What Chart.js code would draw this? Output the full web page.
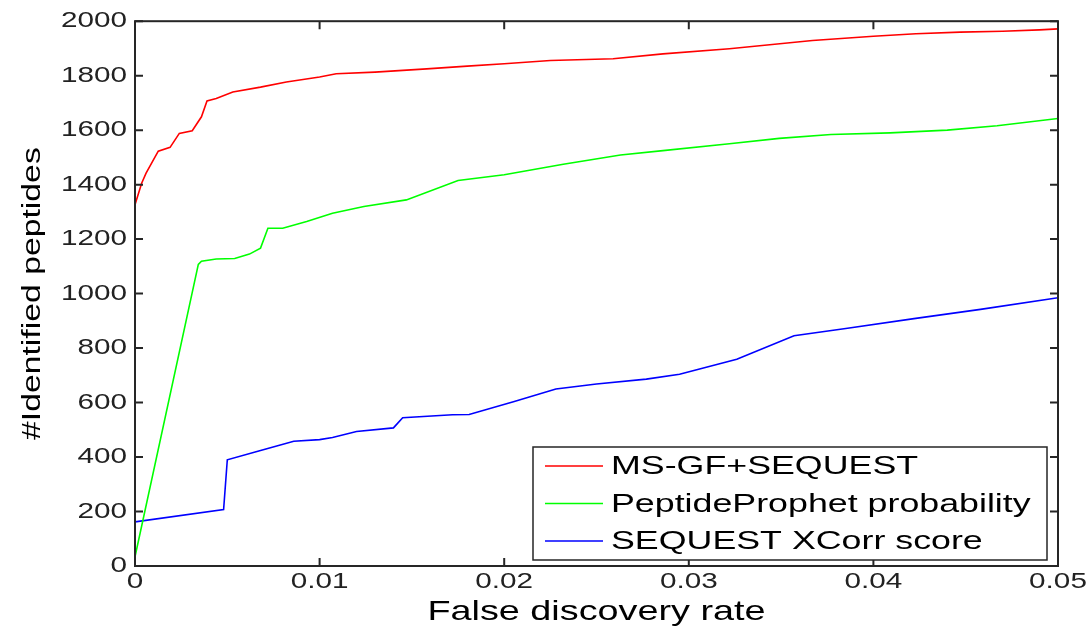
<!DOCTYPE html>
<html lang="en">
<head>
    <meta charset="UTF-8">
    <title>Identified peptides vs FDR</title>
    <style>
        body {
            margin: 0;
            padding: 0;
            background-color: #fff;
        }
        #chart {
            display: block;
        }
    </style>
    <script src="https://cdn.jsdelivr.net/npm/chart.js"></script>
</head>
<body>
<canvas id="chart" width="1092" height="635"></canvas>
<script>
    // tick positions and labels
    const xTicks = [0, 0.01, 0.02, 0.03, 0.04, 0.05];
    const xTickLabels = ['0', '0.01', '0.02', '0.03', '0.04', '0.05'];
    const yTicks = [0, 200, 400, 600, 800, 1000, 1200, 1400, 1600, 1800, 2000];
    const yTickLabels = ['0', '200', '400', '600', '800', '1000', '1200', '1400', '1600', '1800', '2000'];

    const seriesNames = ['MS-GF+SEQUEST', 'PeptideProphet probability', 'SEQUEST XCorr score'];

    // MS-GF+SEQUEST
    const msgfFdr = [0, 0.00036, 0.0006, 0.00126, 0.0019, 0.0024, 0.0031, 0.0036, 0.0039, 0.0044, 0.0053, 0.0068,
        0.0082, 0.010, 0.0109, 0.013, 0.0158, 0.018, 0.020, 0.0225, 0.0259, 0.0286, 0.0322, 0.0367, 0.040,
        0.0423, 0.0447, 0.047, 0.049, 0.050];
    const msgfCount = [1326, 1405, 1442, 1523, 1537, 1588, 1598, 1649, 1707, 1716, 1740, 1758,
        1777, 1795, 1807, 1813, 1825, 1835, 1844, 1856, 1862, 1880, 1899, 1929, 1945,
        1954, 1960, 1963, 1968, 1972];

    // PeptideProphet probability
    const prophetFdr = [0, 0.00343, 0.0036, 0.0044, 0.0054, 0.0062, 0.0068, 0.0072, 0.008, 0.0093, 0.0107, 0.0124,
        0.0147, 0.0175, 0.020, 0.0232, 0.0263, 0.0286, 0.0322, 0.0349, 0.0377, 0.0409, 0.044, 0.0467, 0.050];
    const prophetCount = [34, 1107, 1119, 1127, 1129, 1145, 1167, 1240, 1240, 1265, 1295, 1320,
        1344, 1415, 1436, 1475, 1509, 1525, 1550, 1570, 1584, 1590, 1600, 1616, 1643];

    // SEQUEST XCorr score
    const xcorrFdr = [0, 0.0048, 0.005, 0.0068, 0.0086, 0.010, 0.0107, 0.012, 0.014, 0.0145, 0.0172, 0.0181,
        0.0205, 0.0228, 0.025, 0.0277, 0.0295, 0.0326, 0.0357, 0.0386, 0.0422, 0.0458, 0.050];
    const xcorrCount = [162, 207, 390, 424, 458, 464, 472, 494, 507, 544, 555, 556,
        603, 650, 668, 686, 704, 759, 845, 873, 908, 942, 985];

    const lineColors = ['#ff0000', '#00ff00', '#0000ff'];

    const canvas = document.getElementById('chart');
    const ctx = canvas.getContext('2d');

    // the reference font is wide, so stretch every text run sideways
    const TEXT_STRETCH = 1.35;
    const baseFill = ctx.fillText.bind(ctx);
    const baseMeasure = ctx.measureText.bind(ctx);
    ctx.fillText = function (text, x, y) {
        this.save();
        this.translate(x, y);
        this.scale(TEXT_STRETCH, 1);
        baseFill(text, 0, 0);
        this.restore();
    };
    ctx.measureText = function (text) {
        const m = baseMeasure(text);
        return {
            width: m.width * TEXT_STRETCH,
            actualBoundingBoxAscent: m.actualBoundingBoxAscent,
            actualBoundingBoxDescent: m.actualBoundingBoxDescent
        };
    };

    function toPoints(xs, ys) {
        return xs.map((x, i) => ({ x: x, y: ys[i] }));
    }

    // box with inward ticks and the legend inside the axes
    const framePlugin = {
        id: 'matlabFrame',
        afterDraw(chart) {
            const c = chart.ctx;
            const a = chart.chartArea;
            const xs = chart.scales.x;
            const ys = chart.scales.y;
            c.save();
            c.strokeStyle = '#262626';
            c.lineWidth = 2;
            c.strokeRect(a.left, a.top, a.right - a.left, a.bottom - a.top);
            c.beginPath();
            xTicks.forEach(v => {
                const px = xs.getPixelForValue(v);
                c.moveTo(px, a.bottom);
                c.lineTo(px, a.bottom - 8);
                c.moveTo(px, a.top);
                c.lineTo(px, a.top + 8);
            });
            yTicks.forEach(v => {
                const py = ys.getPixelForValue(v);
                c.moveTo(a.left, py);
                c.lineTo(a.left + 8, py);
                c.moveTo(a.right, py);
                c.lineTo(a.right - 8, py);
            });
            c.stroke();

            // legend
            const boxRight = a.right - 11;
            const boxBottom = a.bottom - 6;
            const boxW = 514;
            const boxH = 113;
            const boxLeft = boxRight - boxW;
            const boxTop = boxBottom - boxH;
            c.fillStyle = '#fff';
            c.fillRect(boxLeft, boxTop, boxW, boxH);
            c.lineWidth = 1.5;
            c.strokeRect(boxLeft, boxTop, boxW, boxH);
            c.font = '26.5px "Liberation Sans", Arial, sans-serif';
            c.textBaseline = 'middle';
            c.textAlign = 'left';
            chart.data.datasets.forEach((ds, i) => {
                const rowY = boxTop + 19 + i * 37.5;
                c.strokeStyle = ds.borderColor;
                c.lineWidth = 1.5;
                c.beginPath();
                c.moveTo(boxLeft + 12, rowY);
                c.lineTo(boxLeft + 70, rowY);
                c.stroke();
                c.fillStyle = '#000';
                c.fillText(ds.label, boxLeft + 78, rowY + 1);
            });
            c.restore();
        }
    };

    new Chart(ctx, {
        type: 'line',
        data: {
            datasets: [
                { label: seriesNames[0], data: toPoints(msgfFdr, msgfCount), borderColor: lineColors[0] },
                { label: seriesNames[1], data: toPoints(prophetFdr, prophetCount), borderColor: lineColors[1] },
                { label: seriesNames[2], data: toPoints(xcorrFdr, xcorrCount), borderColor: lineColors[2] }
            ]
        },
        options: {
            responsive: false,
            animation: false,
            layout: {
                padding: { left: 0, right: 34, top: 19, bottom: 0 }
            },
            elements: {
                line: { borderWidth: 1.6, tension: 0 },
                point: { radius: 0 }
            },
            plugins: {
                legend: { display: false },
                tooltip: { enabled: false }
            },
            scales: {
                x: {
                    type: 'linear',
                    min: 0,
                    max: 0.05,
                    afterBuildTicks: s => { s.ticks = xTicks.map(v => ({ value: v })); },
                    afterFit: s => { s.height = 69; },
                    grid: { display: false, drawTicks: false },
                    border: { display: false },
                    ticks: {
                        padding: 3,
                        color: '#222',
                        maxRotation: 0,
                        autoSkip: false,
                        font: { family: '"Liberation Sans", Arial, sans-serif', size: 22 },
                        callback: (v, i) => xTickLabels[i]
                    },
                    title: {
                        display: true,
                        text: 'False discovery rate',
                        color: '#000',
                        font: { family: '"Liberation Sans", Arial, sans-serif', size: 28 },
                        padding: { top: 0, bottom: 6 }
                    }
                },
                y: {
                    type: 'linear',
                    min: 0,
                    max: 2000,
                    afterBuildTicks: s => { s.ticks = yTicks.map(v => ({ value: v })); },
                    afterFit: s => { s.width = 135; },
                    grid: { display: false, drawTicks: false },
                    border: { display: false },
                    ticks: {
                        padding: 8,
                        color: '#222',
                        autoSkip: false,
                        font: { family: '"Liberation Sans", Arial, sans-serif', size: 22 },
                        callback: (v, i) => yTickLabels[i]
                    },
                    title: {
                        display: true,
                        text: '#Identified peptides',
                        color: '#000',
                        font: { family: '"Liberation Sans", Arial, sans-serif', size: 25 },
                        padding: { top: 18, bottom: 0 }
                    }
                }
            }
        },
        plugins: [framePlugin]
    });
</script>
</body>
</html>
